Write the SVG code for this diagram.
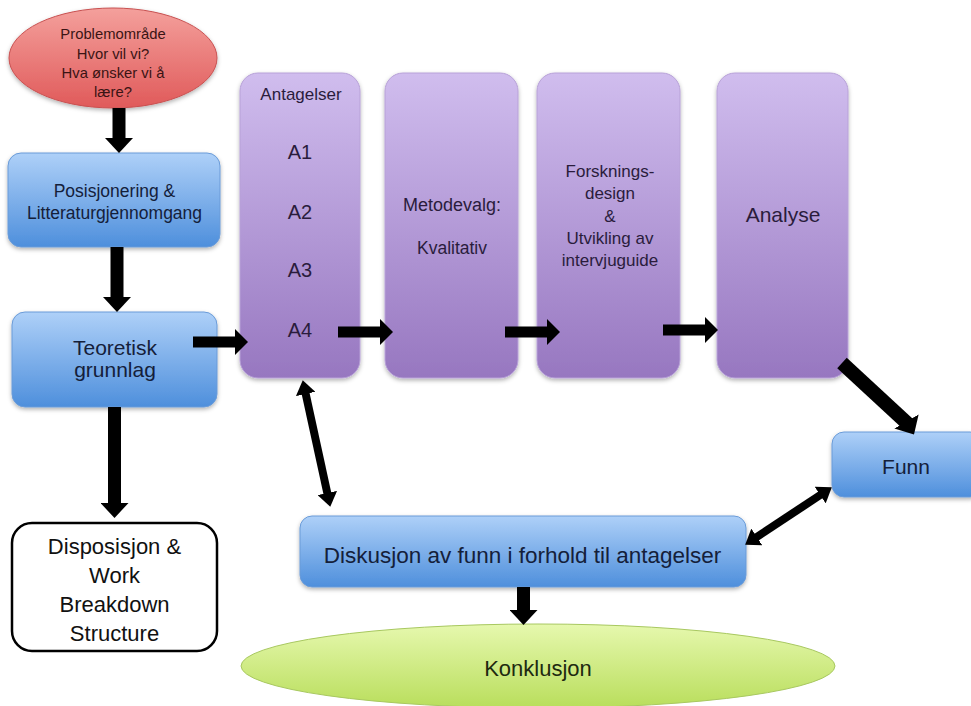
<svg xmlns="http://www.w3.org/2000/svg" width="971" height="706" viewBox="0 0 971 706">
<defs>
<linearGradient id="gBlue" x1="0" y1="0" x2="0" y2="1">
<stop offset="0" stop-color="#aed0f8"/><stop offset="1" stop-color="#4e8fdc"/>
</linearGradient>
<linearGradient id="gPurple" x1="0" y1="0" x2="0" y2="1">
<stop offset="0" stop-color="#d0bdee"/><stop offset="1" stop-color="#9777c0"/>
</linearGradient>
<linearGradient id="gRed" x1="0" y1="0" x2="0" y2="1">
<stop offset="0" stop-color="#f4a09c"/><stop offset="1" stop-color="#e05a5a"/>
</linearGradient>
<linearGradient id="gGreen" x1="0" y1="0" x2="0" y2="1">
<stop offset="0" stop-color="#e6f8ae"/><stop offset="1" stop-color="#b9de5c"/>
</linearGradient>
<filter id="sh" x="-10%" y="-10%" width="130%" height="130%">
<feDropShadow dx="0" dy="2" stdDeviation="2" flood-color="#000" flood-opacity="0.3"/>
</filter>
<marker id="hBig" markerUnits="userSpaceOnUse" viewBox="0 0 15 28" markerWidth="15" markerHeight="28" refX="1" refY="14" orient="auto">
<path d="M0,0 L15,14 L0,28 z" fill="#000"/>
</marker>
<marker id="hDiag" markerUnits="userSpaceOnUse" viewBox="0 0 15 28" markerWidth="15" markerHeight="28" refX="3" refY="14" orient="60">
<path d="M0,0 L15,14 L0,28 z" fill="#000"/>
</marker>
<marker id="hMid" markerUnits="userSpaceOnUse" viewBox="0 0 13 26" markerWidth="13" markerHeight="26" refX="1" refY="13" orient="auto">
<path d="M0,0 L13,13 L0,26 z" fill="#000"/>
</marker>
<marker id="hSm" markerUnits="userSpaceOnUse" viewBox="0 0 14 20" markerWidth="14" markerHeight="20" refX="1" refY="10" orient="auto-start-reverse">
<path d="M0,0 L14,10 L0,20 z" fill="#000"/>
</marker>
</defs>
<style>
text{font-family:"Liberation Sans",Arial,sans-serif;text-anchor:middle}
.blue{fill:url(#gBlue);stroke:#6a9bd8;stroke-width:1;filter:url(#sh)}
.purple{fill:url(#gPurple);stroke:#b8a2d8;stroke-width:1;filter:url(#sh)}
.tb{fill:#14203a}
.tp{fill:#2a1c3c}
.big{stroke:#000;stroke-width:13;fill:none;marker-end:url(#hBig)}
.mid{stroke:#000;stroke-width:11;fill:none;marker-end:url(#hMid)}
.dbl{stroke:#000;stroke-width:8;fill:none;marker-end:url(#hSm);marker-start:url(#hSm)}
</style>

<g id="problemomrade">
<ellipse cx="113" cy="58" rx="104" ry="50" fill="url(#gRed)" stroke="#c85050" stroke-width="1" filter="url(#sh)"/>
<text x="113" y="39" font-size="14.8" fill="#3a1414">Problemområde</text>
<text x="113" y="58.5" font-size="14.8" fill="#3a1414">Hvor vil vi?</text>
<text x="113" y="78" font-size="14.8" fill="#3a1414">Hva ønsker vi å</text>
<text x="113" y="97" font-size="14.8" fill="#3a1414">lære?</text>
</g>

<g id="posisjonering">
<rect x="8" y="153" width="212" height="94" rx="13" class="blue"/>
<text x="114.5" y="197" font-size="17.5" class="tb">Posisjonering &amp;</text>
<text x="114.5" y="219" font-size="17.5" class="tb">Litteraturgjennomgang</text>
</g>

<g id="teoretisk">
<rect x="12" y="312" width="205" height="95" rx="13" class="blue"/>
<text x="115" y="355" font-size="21" class="tb">Teoretisk</text>
<text x="115" y="377" font-size="21" class="tb">grunnlag</text>
</g>

<g id="disposisjon">
<rect x="12" y="523" width="205" height="128" rx="20" fill="#fff" stroke="#000" stroke-width="2.5"/>
<text x="114.5" y="554" font-size="22" fill="#111">Disposisjon &amp;</text>
<text x="114.5" y="583" font-size="22" fill="#111">Work</text>
<text x="114.5" y="612" font-size="22" fill="#111">Breakdown</text>
<text x="114.5" y="641" font-size="22" fill="#111">Structure</text>
</g>

<g id="antagelser">
<rect x="240" y="73" width="120" height="305" rx="18" class="purple"/>
<text x="301" y="100" font-size="17" class="tp">Antagelser</text>
<text x="300" y="159" font-size="20" class="tp">A1</text>
<text x="300" y="219" font-size="20" class="tp">A2</text>
<text x="300" y="277" font-size="20" class="tp">A3</text>
<text x="300" y="337" font-size="20" class="tp">A4</text>
</g>

<g id="metodevalg">
<rect x="385" y="73" width="133" height="305" rx="18" class="purple"/>
<text x="452" y="211" font-size="18" class="tp">Metodevalg:</text>
<text x="452" y="254" font-size="17.5" class="tp">Kvalitativ</text>
</g>

<g id="forskningsdesign">
<rect x="537" y="73" width="143" height="305" rx="18" class="purple"/>
<text x="610" y="177" font-size="17" class="tp">Forsknings-</text>
<text x="610" y="199" font-size="17" class="tp">design</text>
<text x="610" y="222" font-size="17" class="tp">&amp;</text>
<text x="610" y="244" font-size="17" class="tp">Utvikling av</text>
<text x="610" y="266" font-size="17" class="tp">intervjuguide</text>
</g>

<g id="analyse">
<rect x="717" y="73" width="131" height="305" rx="18" class="purple"/>
<text x="783" y="222" font-size="21" class="tp">Analyse</text>
</g>

<g id="funn">
<rect x="832" y="432" width="150" height="65" rx="12" class="blue"/>
<text x="906" y="474" font-size="21" class="tb">Funn</text>
</g>

<g id="diskusjon">
<rect x="300" y="516" width="446" height="71" rx="12" class="blue"/>
<text x="522.5" y="563" font-size="22.5" class="tb">Diskusjon av funn i forhold til antagelser</text>
</g>

<g id="konklusjon">
<ellipse cx="538" cy="666" rx="297" ry="42" fill="url(#gGreen)" stroke="#a8c860" stroke-width="1"/>
<text x="538" y="676" font-size="22" fill="#1e2a10">Konklusjon</text>
</g>

<g id="connectors">
<line x1="119" y1="108" x2="119" y2="139" class="big"/>
<line x1="117" y1="247" x2="117" y2="298" class="big"/>
<line x1="114.5" y1="407" x2="114.5" y2="504" class="big"/>
<line x1="193" y1="342" x2="236" y2="342" class="mid"/>
<line x1="338" y1="332" x2="381" y2="332" class="mid"/>
<line x1="505" y1="332" x2="548" y2="332" class="mid"/>
<line x1="663" y1="330" x2="706" y2="330" class="mid"/>
<line x1="842" y1="363" x2="908" y2="424" stroke="#000" stroke-width="14" marker-end="url(#hDiag)"/>
<line x1="523.5" y1="587" x2="523.5" y2="611" class="big"/>
<line x1="305.5" y1="393" x2="327.5" y2="494" class="dbl"/>
<line x1="756" y1="537.5" x2="821" y2="494.5" class="dbl"/>
</g>
</svg>
